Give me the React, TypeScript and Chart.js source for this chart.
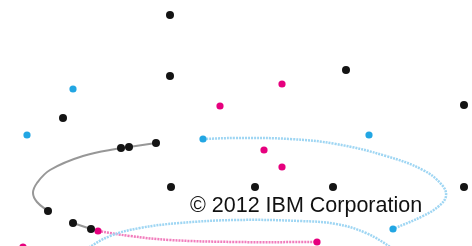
import React, { useEffect, useRef } from "react";
import { Chart, registerables } from "chart.js";

Chart.register(...registerables);

type P = { x: number; y: number };

const blackDots: P[] = [
  { x: 170, y: 15 }, { x: 170, y: 76 }, { x: 63, y: 118 }, { x: 346, y: 70 },
  { x: 464, y: 105 }, { x: 121, y: 148 }, { x: 129, y: 147 }, { x: 156, y: 143 },
  { x: 171, y: 187 }, { x: 255, y: 187 }, { x: 333, y: 187 }, { x: 464, y: 187 },
  { x: 48, y: 211 }, { x: 73, y: 223 }, { x: 91, y: 229 },
];
const blueDots: P[] = [
  { x: 73, y: 89 }, { x: 27, y: 135 }, { x: 203, y: 139 }, { x: 369, y: 135 }, { x: 393, y: 229 },
];
const pinkDots: P[] = [
  { x: 220, y: 106 }, { x: 282, y: 84 }, { x: 264, y: 150 }, { x: 282, y: 167 },
  { x: 98, y: 231 }, { x: 317, y: 242 }, { x: 23, y: 247 },
];
const grayArc: P[] = [
  { x: 156, y: 143 }, { x: 129, y: 147 }, { x: 121, y: 148 }, { x: 83, y: 156 },
  { x: 50, y: 170 }, { x: 37, y: 183 }, { x: 33, y: 193 }, { x: 37, y: 202 }, { x: 48, y: 211 },
];
const grayTail: P[] = [{ x: 73, y: 223 }, { x: 91, y: 229 }];
const blueLoop: P[] = [
  { x: 203, y: 139 }, { x: 236, y: 138 }, { x: 290, y: 139 }, { x: 336, y: 144 },
  { x: 386, y: 156 }, { x: 423, y: 170 }, { x: 442, y: 185 }, { x: 446, y: 196 },
  { x: 439, y: 206 }, { x: 423, y: 216 }, { x: 393, y: 229 },
];
const blueArc: P[] = [
  { x: 86, y: 249 }, { x: 110, y: 236 }, { x: 140, y: 228 }, { x: 180, y: 223 },
  { x: 236, y: 220 }, { x: 300, y: 221 }, { x: 336, y: 224 }, { x: 366, y: 233 }, { x: 394, y: 249 },
];
const pinkArc: P[] = [
  { x: 98, y: 231 }, { x: 130, y: 236 }, { x: 170, y: 240 }, { x: 236, y: 242 }, { x: 317, y: 242 },
];
const caption = "© 2012 IBM Corporation";
const captionAt: P = { x: 190, y: 212 };

const BLACK = "#141414";
const BLUE = "#22a6e3";
const PINK = "#e6007e";

export default function App() {
  const ref = useRef<HTMLCanvasElement>(null);
  useEffect(() => {
    if (!ref.current) return;
    const captionPlugin = {
      id: "caption",
      afterDatasetsDraw(chart: any) {
        const { ctx, scales } = chart;
        ctx.save();
        ctx.font = "21.5px 'Liberation Sans', Arial, sans-serif";
        ctx.fillStyle = "#111";
        ctx.textBaseline = "alphabetic";
        ctx.fillText(caption, scales.x.getPixelForValue(captionAt.x), scales.y.getPixelForValue(captionAt.y));
        ctx.restore();
      },
    };
    const line = (data: P[], color: string, dash: number[], width: number) => ({
      type: "scatter" as const,
      data,
      showLine: true,
      borderColor: color,
      borderWidth: width,
      borderDash: dash,
      pointRadius: 0,
      tension: 0.4,
      fill: false,
      clip: false as any,
      order: 2,
    });
    const dots = (data: P[], color: string, r: number) => ({
      type: "scatter" as const,
      data,
      backgroundColor: color,
      borderColor: color,
      borderWidth: 0,
      pointRadius: r,
      pointHoverRadius: r,
      clip: false as any,
      order: 1,
    });
    const chart = new Chart(ref.current, {
      type: "scatter",
      data: {
        datasets: [
          dots(blackDots, BLACK, 4),
          dots(blueDots, BLUE, 3.6),
          dots(pinkDots, PINK, 3.6),
          line(grayArc, "rgba(140,140,140,0.9)", [], 2),
          line(grayTail, "rgba(140,140,140,0.9)", [], 2),
          line(blueLoop, "#9fd6f3", [2, 1], 2.5),
          line(blueArc, "#9fd6f3", [2, 1], 2.5),
          line(pinkArc, "#f17cbc", [2, 1], 2.5),
        ] as any,
      },
      options: {
        animation: false,
        responsive: true,
        maintainAspectRatio: false,
        layout: { padding: 0, autoPadding: false },
        plugins: { legend: { display: false }, tooltip: { enabled: false }, title: { display: false } },
        events: [],
        scales: {
          x: { type: "linear", min: 0, max: 472, display: false },
          y: { type: "linear", min: 0, max: 246, reverse: true, display: false },
        },
      },
      plugins: [captionPlugin],
    });
    return () => chart.destroy();
  }, []);
  return (
    <div style={{ position: "fixed", left: 0, top: 0, width: 472, height: 246, background: "#fff" }}>
      <canvas ref={ref} />
    </div>
  );
}
